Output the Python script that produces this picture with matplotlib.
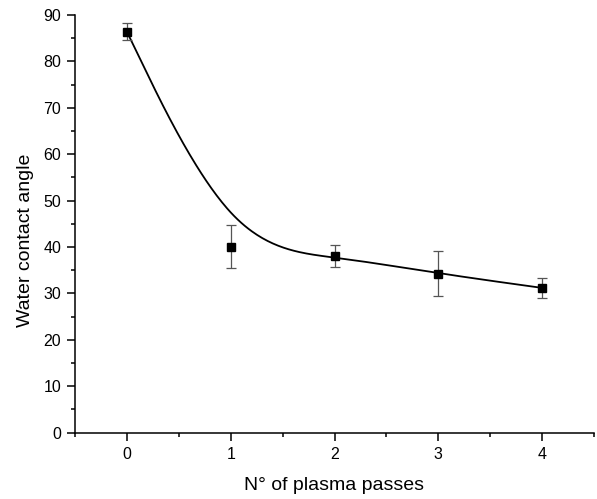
import numpy as np
import matplotlib
matplotlib.use("Agg")
import matplotlib.pyplot as plt
from matplotlib.ticker import MultipleLocator

plt.rcParams['font.family'] = ['Liberation Sans', 'DejaVu Sans']

# Water contact angle versus number of plasma passes
passes = [0, 1, 2, 3, 4]
angle = [86.4, 40.1, 38.0, 34.3, 31.2]
angle_err = [1.8, 4.7, 2.4, 4.8, 2.2]


def bspline(px, py, n_per_seg=60):
    """Uniform cubic B-spline with the data as control points (ends tripled)."""
    P = np.column_stack([px, py]).astype(float)
    Q = np.vstack([P[0], P[0], P, P[-1], P[-1]])
    M = np.array([[-1, 3, -3, 1],
                  [3, -6, 3, 0],
                  [-3, 0, 3, 0],
                  [1, 4, 1, 0]]) / 6.0
    t = np.linspace(0, 1, n_per_seg)
    T = np.column_stack([t ** 3, t ** 2, t, np.ones_like(t)])
    pts = [T @ M @ Q[i:i + 4] for i in range(len(Q) - 3)]
    pts = np.vstack(pts)
    return pts[:, 0], pts[:, 1]


fig = plt.figure(figsize=(5.97, 4.99), dpi=100)
ax = fig.add_axes([75 / 597, 1 - 432.7 / 499, (594 - 75) / 597, (432.7 - 15) / 499])

cx, cy = bspline(passes, angle)
ax.plot(cx, cy, color='black', lw=1.3, zorder=2)

ax.errorbar(passes, angle, yerr=angle_err, fmt='none', ecolor='#555555',
            elinewidth=0.9, capsize=3.3, capthick=0.9, zorder=3)
ax.plot(passes, angle, 's', color='black', markersize=6.3, zorder=4)

ax.set_xlim(-0.5, 4.5)
ax.set_ylim(0, 90)
ax.xaxis.set_major_locator(MultipleLocator(1))
ax.xaxis.set_minor_locator(MultipleLocator(0.5))
ax.yaxis.set_major_locator(MultipleLocator(10))
ax.yaxis.set_minor_locator(MultipleLocator(5))

for side in ('top', 'right'):
    ax.spines[side].set_visible(False)
for side in ('left', 'bottom'):
    ax.spines[side].set_linewidth(1.1)

ax.tick_params(which='major', direction='out', length=6, width=1.1,
               labelsize=11.5, pad=4)
ax.tick_params(which='minor', direction='out', length=3, width=1.1)

ax.set_xlabel('N° of plasma passes', fontsize=14, labelpad=11)
ax.set_ylabel('Water contact angle', fontsize=14)
ax.yaxis.set_label_coords(-0.079, 0.46)

fig.savefig('out.png', dpi=100)
